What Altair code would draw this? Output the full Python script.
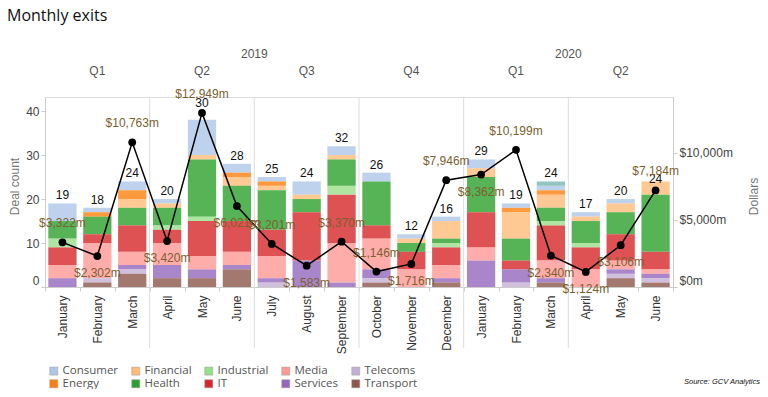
import altair as alt
import pandas as pd

# ---------------- data ----------------
years = ["2019"] * 12 + ["2020"] * 6
month_names = ["January", "February", "March", "April", "May", "June",
               "July", "August", "September", "October", "November", "December",
               "January", "February", "March", "April", "May", "June"]
quarter_names = ["Q1", "Q2", "Q3", "Q4", "Q1", "Q2"]

sectors = ["Consumer", "Energy", "Financial", "Health", "Industrial",
           "IT", "Media", "Services", "Telecoms", "Transport", "Other"]
sector_colors = ["#aec7e8", "#ff7f0e", "#ffbb78", "#2ca02c", "#98df8a",
                 "#d62728", "#ff9896", "#9467bd", "#c5b0d5", "#8c564b", "#77b5b3"]

consumer   = [4, 1, 2, 1, 8, 2, 1, 3, 2, 2, 1, 1, 2, 1, 1, 1, 1, 0]
energy     = [0, 1, 2, 0, 0, 1, 1, 0, 0, 0, 0, 0, 0, 1, 1, 0, 0, 0]
financial  = [0, 0, 2, 1, 1, 2, 1, 1, 1, 0, 1, 4, 2, 6, 3, 1, 2, 3]
health     = [4, 4, 4, 4, 13, 8, 9, 3, 6, 10, 2, 1, 8, 5, 3, 5, 5, 13]
industrial = [2, 0, 0, 1, 1, 0, 0, 0, 2, 0, 0, 1, 0, 0, 1, 1, 0, 0]
it         = [4, 2, 6, 3, 8, 7, 6, 11, 11, 3, 4, 4, 8, 2, 8, 5, 6, 4]
media      = [3, 8, 3, 5, 3, 3, 5, 0, 9, 7, 4, 3, 3, 0, 4, 4, 2, 1]
services   = [2, 0, 1, 3, 2, 1, 1, 6, 1, 2, 0, 1, 6, 3, 1, 0, 1, 1]
telecoms   = [0, 1, 1, 0, 0, 0, 1, 0, 0, 1, 0, 0, 0, 1, 0, 0, 1, 1]
transport  = [0, 1, 3, 2, 2, 4, 0, 0, 0, 1, 0, 1, 0, 0, 1, 0, 2, 1]
other      = [0, 0, 0, 0, 0, 0, 0, 0, 0, 0, 0, 0, 0, 0, 1, 0, 0, 0]

deal_labels = [19, 18, 24, 20, 30, 28, 25, 24, 32, 26, 12, 16, 29, 19, 24, 17, 20, 24]
dollars_m = [3322, 2302, 10763, 3420, 12949, 6021, 3201, 1583, 3370, 1146, 1716, 7946,
             8362, 10199, 2340, 1124, 3106, 7184]

# ---------------- layout helpers ----------------
label_above = [True, False, True, False, True, False, True, False, True, True, False, True,
               False, True, False, False, False, True]
count_dy_special = {4: -17, 17: -2}

keys = [f"{y}|{m}" for y, m in zip(years, month_names)]
series = dict(zip(sectors, [consumer, energy, financial, health, industrial, it,
                            media, services, telecoms, transport, other]))
stack_order = ["Transport", "Telecoms", "Services", "Media", "IT", "Industrial",
               "Health", "Financial", "Energy", "Consumer", "Other"]
rank = {s: i for i, s in enumerate(stack_order)}

rows = []
for s, vals in series.items():
    for k, v in zip(keys, vals):
        if v > 0:
            rows.append({"key": k, "sector": s, "count": v, "rank": rank[s]})
bars_df = pd.DataFrame(rows)

totals = [sum(series[s][i] for s in sectors) for i in range(len(keys))]
tot_df = pd.DataFrame({"key": keys, "total": totals, "label": deal_labels,
                       "idx": list(range(len(keys)))})
dol_df = pd.DataFrame({"key": keys, "dollars": dollars_m, "above": label_above})

FONT = "Liberation Sans"
xscale = alt.Scale(domain=keys, paddingInner=0, paddingOuter=0)
x_axis = alt.Axis(title=None, labelAngle=270, labelAlign="right", labelBaseline="middle",
                  labelExpr="split(datum.value, '|')[1]", labelFontSize=12, labelFont=FONT,
                  labelColor="#333", labelPadding=4, tickBand="extent", tickSize=4,
                  tickColor="#cccccc", domainColor="#cccccc")


def X(**kw):
    return alt.X("key:N", scale=xscale, title=None, axis=x_axis, **kw)


yl_scale = alt.Scale(domain=[0, 43.2], nice=False, zero=True)
yl_axis = alt.Axis(title="Deal count", orient="left", values=[0, 10, 20, 30, 40],
                   labelFlush=True, labelFont=FONT, labelFontSize=12, labelColor="#444",
                   labelPadding=2, tickSize=4, tickColor="#cccccc", domainColor="#cccccc",
                   grid=False, titleFont=FONT, titleFontSize=12, titleColor="#777",
                   titleFontWeight="normal", titleAngle=270, titleX=-31, titleY=89,
                   titleAlign="center", titleBaseline="middle")
yr_scale = alt.Scale(domain=[0, 14130], nice=False, zero=True)
yr_axis = alt.Axis(title="Dollars", orient="right", values=[0, 5000, 10000],
                   labelExpr="'$' + format(datum.value, ',') + 'm'",
                   labelFlush=True, labelFont=FONT, labelFontSize=12, labelColor="#444",
                   labelPadding=2, tickSize=4, tickColor="#cccccc", domainColor="#cccccc",
                   grid=False, titleFont=FONT, titleFontSize=12, titleColor="#777",
                   titleFontWeight="normal", titleAngle=270, titleX=80, titleY=99,
                   titleAlign="center", titleBaseline="middle")


def YL(field):
    return alt.Y(field, scale=yl_scale, axis=yl_axis, title="Deal count")


def YR(field):
    return alt.Y(field, scale=yr_scale, axis=yr_axis, title="Dollars")


legend_order = ["Consumer", "Financial", "Industrial", "Media", "Telecoms",
                "Energy", "Health", "IT", "Services", "Transport"]
legend = alt.Legend(values=legend_order, orient="none", legendX=3, legendY=268,
                    columns=5, direction="horizontal", title=None, symbolType="square",
                    symbolSize=64, symbolOpacity=1, symbolStrokeColor="#999999",
                    symbolStrokeWidth=0.5, labelFont="Open Sans", labelFontSize=11.5,
                    labelColor="#555", labelOffset=3, columnPadding=11, rowPadding=0)

# ---------------- marks ----------------
bars = alt.Chart(bars_df).mark_bar(width=alt.RelativeBandSize(0.81), opacity=0.8).encode(
    x=X(),
    y=alt.Y("count:Q", stack="zero", scale=yl_scale, axis=yl_axis, title="Deal count"),
    color=alt.Color("sector:N", scale=alt.Scale(domain=sectors, range=sector_colors),
                    legend=legend),
    order=alt.Order("rank:Q", sort="ascending"),
)

special_idx = list(count_dy_special.keys())
not_special = " && ".join(f"datum.idx != {i}" for i in special_idx)
count_text = alt.Chart(tot_df).transform_filter(not_special).mark_text(
    dy=-8, fontSize=12, font=FONT, color="#111").encode(
    x=X(), y=YL("total:Q"), text="label:N")

special_layers = []
for i, dy in count_dy_special.items():
    special_layers.append(
        alt.Chart(tot_df).transform_filter(f"datum.idx == {i}")
        .mark_text(dy=dy, fontSize=12, font=FONT, color="#111")
        .encode(x=X(), y=YL("total:Q"), text="label:N"))

# quarter separators, headers (no y scale)
sep_df = pd.DataFrame({"key": [keys[i] for i in range(3, len(keys), 3)]})
seps = alt.Chart(sep_df).mark_rule(color="#dddddd", strokeWidth=1).encode(
    x=X(bandPosition=0), y=alt.value(0), y2=alt.value(251))

q_df = pd.DataFrame({"key": [keys[i] for i in range(1, len(keys), 3)], "q": quarter_names})
q_text = alt.Chart(q_df).mark_text(fontSize=12, font=FONT, color="#555",
                                   baseline="middle").encode(
    x=X(), y=alt.value(-26), text="q:N")

year_rows = []
for yv in ["2019", "2020"]:
    idxs = [i for i, y in enumerate(years) if y == yv]
    year_rows.append({"key": keys[idxs[0] + len(idxs) // 2], "year": yv})
y_df = pd.DataFrame(year_rows)
y_text = alt.Chart(y_df).mark_text(fontSize=12, font=FONT, color="#555",
                                   baseline="middle").encode(
    x=X(bandPosition=0), y=alt.value(-43), text="year:N")

one = pd.DataFrame({"a": [0]})
title = alt.Chart(one).mark_text(align="left", baseline="alphabetic", font="Open Sans",
                                 fontSize=16, color="#111").encode(
    x=alt.value(-38), y=alt.value(-76), text=alt.value("Monthly exits"))
source = alt.Chart(one).mark_text(align="right", baseline="middle", font=FONT,
                                  fontSize=7.5, fontStyle="italic", color="#111").encode(
    x=alt.value(715), y=alt.value(285), text=alt.value("Source: GCV Analytics"))

left = alt.layer(bars, seps, count_text, *special_layers, q_text, y_text, title, source)

line = alt.Chart(dol_df).mark_line(color="black", strokeWidth=1.5).encode(
    x=X(), y=YR("dollars:Q"))
pts = alt.Chart(dol_df).mark_circle(size=60, color="black", opacity=1).encode(
    x=X(), y=YR("dollars:Q"))
txt_expr = "'$' + format(datum.dollars, ',') + 'm'"
lab_up = alt.Chart(dol_df).transform_filter("datum.above").transform_calculate(
    txt=txt_expr).mark_text(dy=-19, fontSize=12, font=FONT, color="#7d5f2f").encode(
    x=X(), y=YR("dollars:Q"), text="txt:N")
lab_dn = alt.Chart(dol_df).transform_filter("!datum.above").transform_calculate(
    txt=txt_expr).mark_text(dy=17, fontSize=12, font=FONT, color="#7d5f2f").encode(
    x=X(), y=YR("dollars:Q"), text="txt:N")

right = alt.layer(line, pts, lab_up, lab_dn)

chart = alt.layer(left, right).resolve_scale(
    y="independent"
).properties(
    width=628, height=190,
    autosize=alt.AutoSizeParams(type="none"),
    padding={"left": 37, "top": 89, "right": 87, "bottom": 102},
).configure_view(stroke=None).configure(background="white")

chart.save("out.html", embed_options={"renderer": "svg", "actions": False})
